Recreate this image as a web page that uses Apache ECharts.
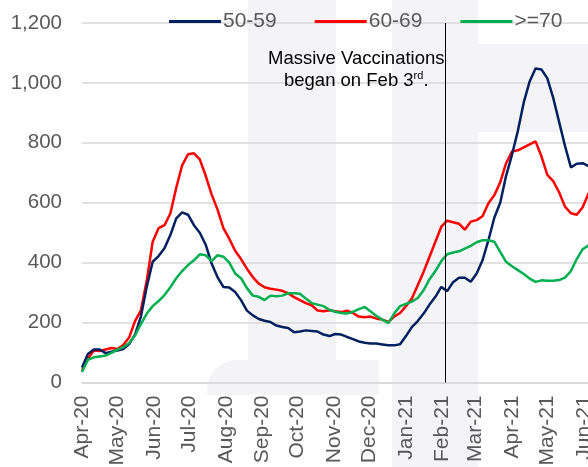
<!DOCTYPE html>
<html>
<head>
<meta charset="utf-8">
<script src="https://cdn.jsdelivr.net/npm/echarts@6/dist/echarts.min.js"></script>
<style>html,body{margin:0;padding:0;background:#fff;overflow:hidden;}#c{width:588px;height:467px;}</style>
</head>
<body>
<div id="c"></div>
<script>
// Sample dates (every 5 days)
var sampleDates = [
'2020-04-01','2020-04-06','2020-04-11','2020-04-16','2020-04-21','2020-04-26','2020-05-01','2020-05-06','2020-05-11','2020-05-16',
'2020-05-21','2020-05-26','2020-05-31','2020-06-05','2020-06-10','2020-06-15','2020-06-20','2020-06-25','2020-06-30','2020-07-05',
'2020-07-10','2020-07-15','2020-07-20','2020-07-25','2020-07-30','2020-08-04','2020-08-09','2020-08-14','2020-08-19','2020-08-24',
'2020-08-29','2020-09-03','2020-09-08','2020-09-13','2020-09-18','2020-09-23','2020-09-28','2020-10-03','2020-10-08','2020-10-13',
'2020-10-18','2020-10-23','2020-10-28','2020-11-02','2020-11-07','2020-11-12','2020-11-17','2020-11-22','2020-11-27','2020-12-02',
'2020-12-07','2020-12-12','2020-12-17','2020-12-22','2020-12-27','2021-01-01','2021-01-06','2021-01-11','2021-01-16','2021-01-21',
'2021-01-26','2021-01-31','2021-02-05','2021-02-10','2021-02-15','2021-02-20','2021-02-25','2021-03-02','2021-03-07','2021-03-12',
'2021-03-17','2021-03-22','2021-03-27','2021-04-01','2021-04-06','2021-04-11','2021-04-16','2021-04-21','2021-04-26','2021-05-01',
'2021-05-06','2021-05-11','2021-05-16','2021-05-21','2021-05-26','2021-05-31','2021-06-05','2021-06-10'
];
var age5059 = [
50,95,110,110,98,103,107,112,128,160,
220,320,403,422,448,492,548,568,560,525,
500,460,397,352,319,317,302,275,240,224,
212,206,202,190,185,182,168,170,174,172,
170,160,155,162,160,152,145,137,133,130,
130,127,124,124,128,155,185,205,230,260,
286,319,305,335,350,350,336,364,408,475,
550,600,690,760,840,935,1005,1048,1045,1015,
950,870,790,718,730,732,722,725
];
var age6069 = [
40,79,107,105,110,115,112,125,150,205,
241,341,470,515,525,564,650,725,762,765,
745,690,628,578,515,480,440,412,380,352,
330,318,313,310,306,298,285,275,265,258,
240,238,241,238,235,240,232,220,218,220,
213,210,202,220,232,255,280,325,370,420,
470,520,540,535,530,510,537,542,555,598,
625,668,732,771,775,785,795,805,755,693,
672,635,587,565,560,585,631,660
];
var age70plus = [
35,76,84,87,90,99,110,118,132,157,
195,230,255,272,292,318,348,372,392,408,
428,425,405,425,420,400,364,348,315,290,
286,275,290,288,290,298,298,296,280,265,
260,255,243,236,232,230,236,245,252,237,
222,210,198,230,255,262,270,282,308,345,
372,405,428,434,438,447,456,468,475,475,
470,436,403,388,375,362,347,336,341,340,
340,342,350,372,412,445,458,465
];
var seriesNames = ['50-59','60-69','>=70'];
var seriesColors = ['#002060','#FF0000','#00B050'];
var yTicks = [0,200,400,600,800,1000,1200];
var axisStart = '2020-04-01', axisEnd = '2021-06-30';
var vaccinationDate = '2021-02-03';
var monthNames = ['Jan','Feb','Mar','Apr','May','Jun','Jul','Aug','Sep','Oct','Nov','Dec'];

// daily category list for the x axis
var days = [];
(function(){
  var d = new Date(axisStart + 'T00:00:00Z'), end = new Date(axisEnd + 'T00:00:00Z');
  while (d <= end) { days.push(d.toISOString().slice(0,10)); d = new Date(d.getTime() + 86400000); }
})();
function pairs(vals){ return sampleDates.map(function(dt,i){ return [dt, vals[i]]; }); }

var FONT = 'Liberation Sans, Arial, sans-serif';
var WM = '#f4f4f7';
var chart = echarts.init(document.getElementById('c'), null, {renderer:'canvas'});
chart.setOption({
  animation: false,
  backgroundColor: '#ffffff',
  textStyle: {fontFamily: FONT},
  graphic: [
    {type:'rect', z:-10, silent:true, shape:{x:248,y:0,width:88,height:395}, style:{fill:WM}},
    {type:'rect', z:-10, silent:true, shape:{x:207,y:360,width:172,height:35,r:[30,0,0,0]}, style:{fill:WM}},
    {type:'rect', z:-10, silent:true, shape:{x:392,y:0,width:86,height:467}, style:{fill:WM}},
    {type:'rect', z:-10, silent:true, shape:{x:478,y:44,width:110,height:88}, style:{fill:WM}},
    {type:'text', z:10, left: 268, top: 49, style:{
      text:'Massive Vaccinations', fill:'#000', font: '18.5px ' + FONT, textAlign:'left'}},
    {type:'text', z:10, left: 284, top: 70, style:{
      text:'{a|began on Feb 3}{s|rd}{a|.}', fill:'#000', font: '18.5px ' + FONT,
      rich:{ a:{fontSize:18.5, fontFamily:FONT, lineHeight:20, verticalAlign:'bottom'},
             s:{fontSize:11, fontFamily:FONT, lineHeight:20, verticalAlign:'top', padding:[0,0,8,0]} }}}
  ],
  legend: {
    data: seriesNames, left: 164, top: 6, icon: 'rect', itemWidth: 52, itemHeight: 3,
    itemGap: 38,
    textStyle: {fontSize: 21, color: '#595959', fontFamily: FONT, padding:[0,0,0,-3]}
  },
  grid: {left: 82, top: 23, width: 536, bottom: 84.5, containLabel: false, outerBoundsMode: 'none'},
  xAxis: {
    type: 'category', data: days, boundaryGap: false,
    axisLine: {show: true, lineStyle: {color: '#d9d9d9', width: 1.5}},
    axisTick: {show: false},
    splitLine: {show: false},
    axisLabel: {
      rotate: 90, margin: 13, fontSize: 21, color: '#595959', fontFamily: FONT,
      interval: function(i, v){ return v.slice(8) === '01'; },
      formatter: function(v){ return monthNames[parseInt(v.slice(5,7),10)-1] + '-' + v.slice(2,4); }
    }
  },
  yAxis: {
    type: 'value', min: yTicks[0], max: yTicks[yTicks.length-1], interval: 200,
    axisLine: {show: false}, axisTick: {show: false},
    splitLine: {lineStyle: {color: '#d9d9d9', width: 1.5}},
    axisLabel: {fontSize: 20.5, color: '#595959', margin: 20, fontFamily: FONT,
      formatter: function(v){ return v.toLocaleString('en-US'); }}
  },
  series: [
    {name: seriesNames[0], type:'line', data: pairs(age5059), showSymbol:false, symbol:'none',
     lineStyle:{color:seriesColors[0], width:2.5}, itemStyle:{color:seriesColors[0]}, z:3,
     markLine: {silent:true, symbol:['none','none'], label:{show:false},
       lineStyle:{color:'#000', width:1, type:'solid'}, data:[{xAxis: vaccinationDate}]}},
    {name: seriesNames[1], type:'line', data: pairs(age6069), showSymbol:false, symbol:'none',
     lineStyle:{color:seriesColors[1], width:2.5}, itemStyle:{color:seriesColors[1]}, z:2},
    {name: seriesNames[2], type:'line', data: pairs(age70plus), showSymbol:false, symbol:'none',
     lineStyle:{color:seriesColors[2], width:2.5}, itemStyle:{color:seriesColors[2]}, z:4}
  ]
});
</script>
</body>
</html>
